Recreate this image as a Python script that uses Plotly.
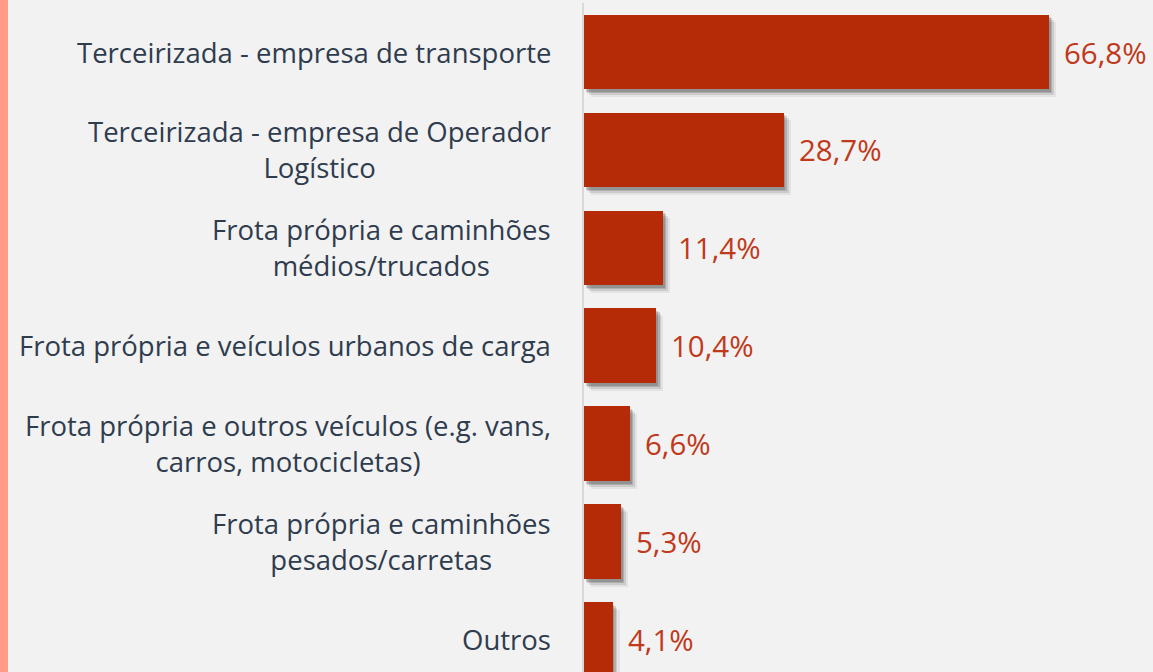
import plotly.graph_objects as go

# categories (top to bottom) and share of respondents (%)
categories = [
    "Terceirizada - empresa de transporte",
    "Terceirizada - empresa de Operador<br>Logístico",
    "Frota própria e caminhões<br>médios/trucados",
    "Frota própria e veículos urbanos de carga",
    "Frota própria e outros veículos (e.g. vans,<br>carros, motocicletas)",
    "Frota própria e caminhões<br>pesados/carretas",
    "Outros",
]
values = [66.8, 28.7, 11.4, 10.4, 6.6, 5.3, 4.1]

BAR_COLOR = "#B52B07"
VALUE_COLOR = "#C0391B"
LABEL_COLOR = "#2F3C4E"
BG = "#F2F2F2"
FONT = "Segoe UI, Open Sans, Noto Sans, sans-serif"

pos = list(range(len(categories)))
bar_w = 0.765

fig = go.Figure()

# soft drop shadow: a few offset translucent layers behind each bar
for dx, dy, a in [(1.0, 0.08, 0.06), (0.7, 0.06, 0.10), (0.45, 0.04, 0.14), (0.25, 0.025, 0.16)]:
    fig.add_trace(go.Bar(
        y=pos, x=values, base=dx, orientation="h",
        width=bar_w, offset=-bar_w / 2 + dy,
        marker=dict(color=f"rgba(0,0,0,{a})", line=dict(width=0)),
        hoverinfo="skip", showlegend=False,
    ))

fig.add_trace(go.Bar(
    y=pos, x=values, orientation="h", width=bar_w,
    marker=dict(color=BAR_COLOR, line=dict(width=0)),
    showlegend=False,
))

for p, c, v in zip(pos, categories, values):
    fig.add_annotation(
        x=0, y=p, xref="x", yref="y", text=c, showarrow=False,
        xanchor="right", yanchor="middle", align="center", xshift=-31,
        font=dict(family=FONT, size=27.5, color=LABEL_COLOR),
    )
    fig.add_annotation(
        x=v, y=p, xref="x", yref="y",
        text=f"{v:.1f}%".replace(".", ","), showarrow=False,
        xanchor="left", yanchor="middle", xshift=13,
        font=dict(family=FONT, size=29.5, color=VALUE_COLOR),
    )

# salmon strip at the left edge
fig.add_shape(type="rect", xref="paper", yref="paper",
              x0=-600 / 569, x1=-576 / 569, y0=-0.05, y1=1.05,
              fillcolor="#FF9C85", line=dict(width=0), layer="below")

fig.update_layout(
    width=1153, height=672,
    margin=dict(l=584, r=0, t=3, b=0, pad=0),
    paper_bgcolor=BG, plot_bgcolor=BG,
    barmode="overlay", bargap=0,
    font=dict(family=FONT),
)
fig.update_xaxes(range=[0, 569 / 6.96], visible=False, fixedrange=True)
fig.update_yaxes(range=[6.327, -0.5], showticklabels=False, showgrid=False,
                 zeroline=False, showline=True, linecolor="#D9D9D9",
                 linewidth=2, ticks="", fixedrange=True)

fig.write_html("out.html", config={"displayModeBar": False},
               post_script="document.body.style.margin='0';document.body.style.overflow='hidden';")
